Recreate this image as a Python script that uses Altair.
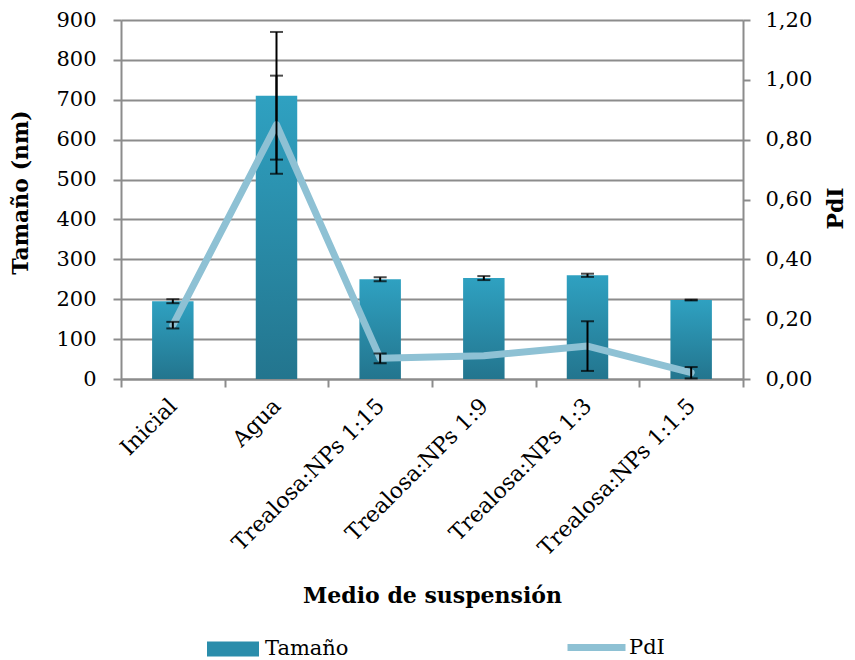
import altair as alt
import pandas as pd

categories = ["Inicial", "Agua", "Trealosa:NPs 1:15", "Trealosa:NPs 1:9",
              "Trealosa:NPs 1:3", "Trealosa:NPs 1:1.5"]
tamano = [195, 710, 250, 253, 260, 198]
tamano_err = [5, 160, 5, 5, 4, 1]
pdi = [0.18, 0.85, 0.069, 0.078, 0.11, 0.021]
pdi_err = [0.011, 0.164, 0.016, 0.0, 0.083, 0.019]

df = pd.DataFrame({
    "cat": categories,
    "tam": tamano,
    "tam_lo": [v - e for v, e in zip(tamano, tamano_err)],
    "tam_hi": [v + e for v, e in zip(tamano, tamano_err)],
    "pdi": pdi,
    "pdi_err": pdi_err,
    "pdi_lo": [v - e for v, e in zip(pdi, pdi_err)],
    "pdi_hi": [v + e for v, e in zip(pdi, pdi_err)],
    "s_tam": "Tamaño",
    "s_pdi": "PdI",
    "zero": 0,
})

FONT = "DejaVu Serif"
GRID = "#8c8c8c"

xenc = alt.X(
    "cat:N", sort=categories, title="Medio de suspensión",
    scale=alt.Scale(paddingInner=0, paddingOuter=0),
    axis=alt.Axis(labelAngle=-45, labelAlign="right", labelBaseline="middle",
                  labelPadding=15, labelLimit=400, tickBand="extent",
                  tickSize=8, tickWidth=2,
                  tickColor=GRID, domainColor=GRID, domainWidth=2,
                  labelFontSize=22, labelFont=FONT, labelColor="black",
                  titleFontSize=22, titleFont=FONT, titleFontWeight="bold",
                  titleColor="black", titleY=216, titleBaseline="middle",
                  grid=False),
)

yl_scale = alt.Scale(domain=[0, 900], nice=False)
yr_scale = alt.Scale(domain=[0, 1.2], nice=False)

left_axis = alt.Axis(
    orient="left", values=list(range(0, 901, 100)), tickSize=8, tickWidth=2,
    tickColor=GRID, domainColor=GRID, domainWidth=2, grid=True,
    gridColor=GRID, gridWidth=2, gridOpacity=1, labelPadding=17,
    labelFontSize=21, labelFont=FONT, labelColor="black",
    title="Tamaño (nm)", titleFontSize=22, titleFont=FONT,
    titleFontWeight="bold", titleColor="black", titleX=-101, titleY=172,
    titleAngle=270, titleBaseline="middle",
)
right_axis = alt.Axis(
    orient="right", values=[0, 0.2, 0.4, 0.6, 0.8, 1.0, 1.2], tickSize=7,
    tickWidth=2, tickColor=GRID, domainColor=GRID, domainWidth=2, grid=False,
    labelPadding=15, labelFontSize=21, labelFont=FONT, labelColor="black",
    labelExpr="replace(format(datum.value, '.2f'), '.', ',')",
    title="PdI", titleFontSize=22, titleFont=FONT, titleFontWeight="bold",
    titleColor="black", titleX=92, titleY=188, titleAngle=270,
    titleBaseline="middle",
)

grad = alt.Gradient(
    gradient="linear",
    stops=[alt.GradientStop(color="#23758e", offset=0),
           alt.GradientStop(color="#2fa1c1", offset=1)],
    x1=1, x2=1, y1=1, y2=0,
)

base = alt.Chart(df)
BW = alt.RelativeBandSize(0.4)

bars = base.mark_bar(color=grad, width=BW).encode(
    x=xenc, y=alt.Y("tam:Q", scale=yl_scale, axis=left_axis))

bar_legend = base.mark_bar(strokeWidth=0, width=BW).encode(
    x=xenc,
    y=alt.Y("zero:Q", scale=yl_scale, axis=None),
    y2="zero:Q",
    fill=alt.Fill("s_tam:N", scale=alt.Scale(domain=["Tamaño"], range=["#2a8dab"]),
                  legend=alt.Legend(orient="none", legendX=86, legendY=603,
                                    title=None, symbolType="M-1,-0.29H1V0.29H-1Z",
                                    symbolSize=2704, symbolStrokeWidth=0,
                                    labelFont=FONT, labelFontSize=21,
                                    labelColor="black", labelOffset=6, padding=0)),
)

bar_err = base.mark_rule(color="black", strokeWidth=2).encode(
    x=xenc, y=alt.Y("tam_lo:Q", scale=yl_scale, axis=None), y2="tam_hi:Q")
bar_cap_lo = base.mark_tick(color="black", size=13, thickness=2).encode(
    x=xenc, y=alt.Y("tam_lo:Q", scale=yl_scale, axis=None))
bar_cap_hi = base.mark_tick(color="black", size=13, thickness=2).encode(
    x=xenc, y=alt.Y("tam_hi:Q", scale=yl_scale, axis=None))

line = base.mark_line(strokeWidth=7, strokeCap="round", strokeJoin="round").encode(
    x=xenc, y=alt.Y("pdi:Q", scale=yr_scale, axis=right_axis),
    stroke=alt.Stroke("s_pdi:N", scale=alt.Scale(domain=["PdI"], range=["#8ec1d4"]),
                      legend=alt.Legend(orient="none", legendX=443, legendY=595,
                                        title=None, symbolType="stroke",
                                        symbolSize=3364, symbolStrokeWidth=7,
                                        labelFont=FONT, labelFontSize=21,
                                        labelColor="black", labelOffset=0, padding=0)),
)

pdf = base.transform_filter("datum.pdi_err > 0")
pdi_err_rule = pdf.mark_rule(color="black", strokeWidth=2).encode(
    x=xenc, y=alt.Y("pdi_lo:Q", scale=yr_scale, axis=None), y2="pdi_hi:Q")
pdi_cap_lo = pdf.mark_tick(color="black", size=13, thickness=2).encode(
    x=xenc, y=alt.Y("pdi_lo:Q", scale=yr_scale, axis=None))
pdi_cap_hi = pdf.mark_tick(color="black", size=13, thickness=2).encode(
    x=xenc, y=alt.Y("pdi_hi:Q", scale=yr_scale, axis=None))

chart = alt.layer(
    bars, bar_legend, bar_err, bar_cap_lo, bar_cap_hi,
    line, pdi_err_rule, pdi_cap_lo, pdi_cap_hi,
).resolve_scale(y="independent").properties(
    width=622, height=359,
    autosize=alt.AutoSizeParams(type="none"),
    padding={"left": 113, "top": 12, "right": 104, "bottom": 283},
).configure_view(stroke=None, strokeWidth=0).configure(background="white")

chart.save("out.html", embed_options={"renderer": "svg", "actions": False})
